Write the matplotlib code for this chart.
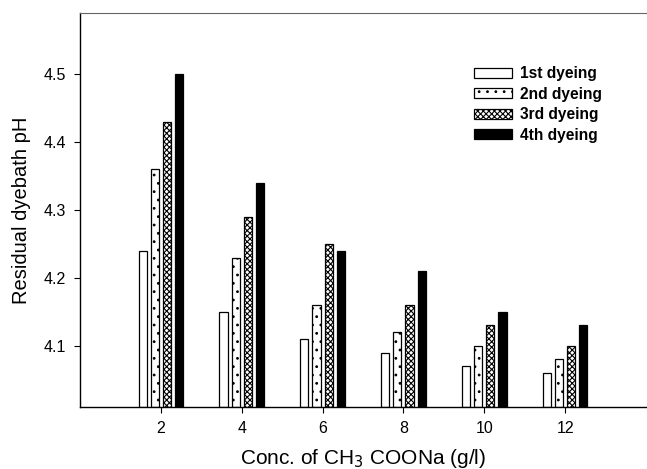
import numpy as np
import matplotlib
matplotlib.use("Agg")
import matplotlib.pyplot as plt

# CH3COONa concentration (g/l) and residual pH per dyeing cycle
conc = [2, 4, 6, 8, 10, 12]
first_dyeing = [4.24, 4.15, 4.11, 4.09, 4.07, 4.06]
second_dyeing = [4.36, 4.23, 4.16, 4.12, 4.10, 4.08]
third_dyeing = [4.43, 4.29, 4.25, 4.16, 4.13, 4.10]
fourth_dyeing = [4.50, 4.34, 4.24, 4.21, 4.15, 4.13]
series_labels = ["1st dyeing", "2nd dyeing", "3rd dyeing", "4th dyeing"]
y_ticks = [4.1, 4.2, 4.3, 4.4, 4.5]

plt.rcParams["font.family"] = ["Liberation Sans", "DejaVu Sans"]
plt.rcParams["hatch.linewidth"] = 0.8

fig = plt.figure(figsize=(6.47, 4.69), dpi=100)
ax = fig.add_axes([0.1236, 0.1322, 0.875, 0.84])

x = np.array(conc, dtype=float)
width = 0.2
offsets = [-0.45, -0.15, 0.15, 0.45]
styles = [
    dict(facecolor="white", edgecolor="black", hatch=None),
    dict(facecolor="white", edgecolor="black", hatch=".."),
    dict(facecolor="white", edgecolor="black", hatch="xxxxxx"),
    dict(facecolor="black", edgecolor="black", hatch=None),
]
ymin = 4.01
for vals, off, st, lab in zip(
    [first_dyeing, second_dyeing, third_dyeing, fourth_dyeing], offsets, styles, series_labels
):
    heights = np.array(vals) - ymin
    ax.bar(x + off, heights, width=width, bottom=ymin, linewidth=0.9, label=lab, **st)

ax.set_xlim(0, 14)
ax.set_ylim(ymin, 4.59)
ax.set_xticks(conc)
ax.set_xticklabels([str(c) for c in conc], fontsize=11.5)
ax.set_yticks(y_ticks)
ax.set_yticklabels([f"{t:.1f}" for t in y_ticks], fontsize=11.5)
ax.tick_params(direction="out", length=4, width=0.8, pad=6)

ax.spines["right"].set_visible(False)
ax.spines["top"].set_color("#666666")
ax.spines["top"].set_linewidth(0.8)
ax.spines["left"].set_linewidth(1.0)
ax.spines["bottom"].set_linewidth(1.0)

ax.set_ylabel("Residual dyebath pH", fontsize=14.5, labelpad=9)
ax.set_xlabel("Conc. of CH$_3$ COONa (g/l)", fontsize=15, labelpad=8)

leg = ax.legend(
    loc="upper left", bbox_to_anchor=(0.672, 0.9), frameon=False,
    prop={"weight": "bold", "size": 11.2}, handlelength=2.4, handleheight=0.6,
    labelspacing=0.35, handletextpad=0.55,
)

fig.savefig("out.png", dpi=100)
